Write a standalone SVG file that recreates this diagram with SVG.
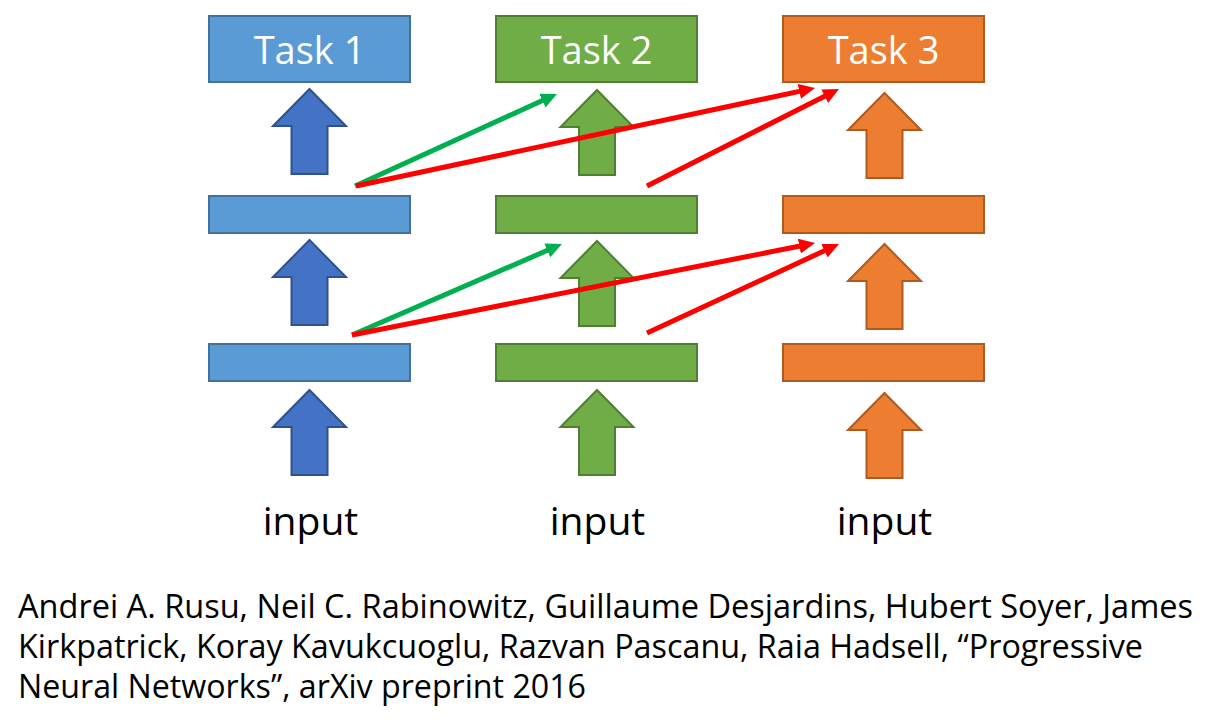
<svg xmlns="http://www.w3.org/2000/svg" width="1219" height="720" viewBox="0 0 1219 720">
<style>
.blue{fill:#5B9BD5;stroke:#41719C;stroke-width:2}
.barr{fill:#4472C4;stroke:#2F528F;stroke-width:2}
.green{fill:#70AD47;stroke:#507E32;stroke-width:2}
.orange{fill:#ED7D31;stroke:#AE5A21;stroke-width:2}
.task{font-family:"Open Sans","Noto Sans",sans-serif;font-size:38px;fill:#FFFFFF;text-anchor:middle}
.inp{font-family:"Open Sans","Noto Sans",sans-serif;font-size:39px;fill:#000000;text-anchor:middle}
.cite{font-family:"Open Sans","Noto Sans",sans-serif;font-size:32px;fill:#000000}
.lg{stroke:#00B050;stroke-width:5;fill:none}
.lr{stroke:#FF0000;stroke-width:5;fill:none}
</style>
<defs>
<marker id="hg" markerUnits="userSpaceOnUse" markerWidth="18" markerHeight="16" refX="6" refY="7.5" orient="auto" viewBox="0 0 18 16"><path d="M0,0 L16,7.5 L0,15 z" fill="#00B050"/></marker>
<marker id="hr" markerUnits="userSpaceOnUse" markerWidth="18" markerHeight="16" refX="6" refY="7.5" orient="auto" viewBox="0 0 18 16"><path d="M0,0 L16,7.5 L0,15 z" fill="#FF0000"/></marker>
<path id="up" d="M0,0 L36.5,37 L18,37 L18,85 L-18,85 L-18,37 L-36.5,37 Z"/>
</defs>
<rect width="1219" height="720" fill="#FFFFFF"/>

<g id="task1"><rect class="blue" x="209" y="16" width="201" height="66"/><text class="task" x="309.5" y="64">Task 1</text></g>
<g id="task2"><rect class="green" x="496" y="16" width="201" height="66"/><text class="task" x="596.5" y="64">Task 2</text></g>
<g id="task3"><rect class="orange" x="783" y="16" width="201" height="66"/><text class="task" x="883.5" y="64">Task 3</text></g>

<g id="col1-h2"><rect class="blue" x="209" y="196" width="201" height="37"/></g>
<g id="col1-h1"><rect class="blue" x="209" y="344" width="201" height="37"/></g>
<g id="col2-h2"><rect class="green" x="496" y="196" width="201" height="37"/></g>
<g id="col2-h1"><rect class="green" x="496" y="344" width="201" height="37"/></g>
<g id="col3-h2"><rect class="orange" x="783" y="196" width="201" height="37"/></g>
<g id="col3-h1"><rect class="orange" x="783" y="344" width="201" height="37"/></g>

<g id="col1-arrows">
<use href="#up" class="barr" x="309.5" y="89"/>
<use href="#up" class="barr" x="309.5" y="240"/>
<use href="#up" class="barr" x="309.5" y="390"/>
</g>
<g id="col2-arrows">
<use href="#up" class="green" x="597" y="90"/>
<use href="#up" class="green" x="597" y="241"/>
<use href="#up" class="green" x="597" y="390"/>
</g>
<g id="col3-arrows">
<use href="#up" class="orange" x="884.5" y="93"/>
<use href="#up" class="orange" x="884.5" y="244"/>
<use href="#up" class="orange" x="884.5" y="393"/>
</g>

<g id="connectors">
<line class="lg" x1="355" y1="186" x2="547.9" y2="98.1" marker-end="url(#hg)"/>
<line class="lg" x1="352" y1="335" x2="552.8" y2="248" marker-end="url(#hg)"/>
<line class="lr" x1="356" y1="186" x2="805.2" y2="90.1" marker-end="url(#hr)"/>
<line class="lr" x1="647" y1="186" x2="830.1" y2="93.5" marker-end="url(#hr)"/>
<line class="lr" x1="352" y1="335" x2="805.2" y2="245" marker-end="url(#hr)"/>
<line class="lr" x1="647" y1="333" x2="829.9" y2="248.2" marker-end="url(#hr)"/>
</g>

<g id="inputs">
<text class="inp" x="310.5" y="535">input</text>
<text class="inp" x="597.5" y="535">input</text>
<text class="inp" x="884.5" y="535">input</text>
</g>

<g id="citation">
<text class="cite" x="18" y="618" textLength="1175" lengthAdjust="spacingAndGlyphs">Andrei A. Rusu, Neil C. Rabinowitz, Guillaume Desjardins, Hubert Soyer, James</text>
<text class="cite" x="18" y="658" textLength="1125" lengthAdjust="spacingAndGlyphs">Kirkpatrick, Koray Kavukcuoglu, Razvan Pascanu, Raia Hadsell, “Progressive</text>
<text class="cite" x="18" y="698" textLength="568" lengthAdjust="spacingAndGlyphs">Neural Networks”, arXiv preprint 2016</text>
</g>
</svg>
